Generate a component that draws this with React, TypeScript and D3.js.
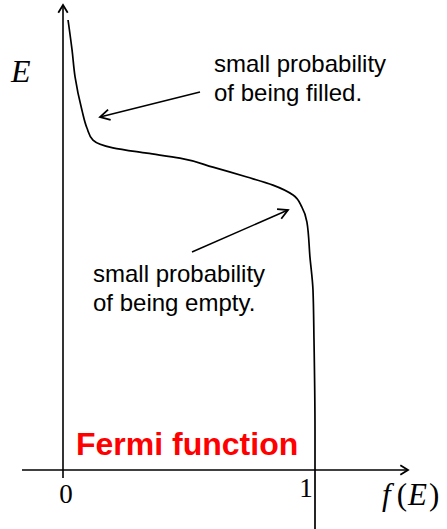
import React from "react";
import * as d3 from "d3";

// Fermi function curve samples (f in [0,1], E in arbitrary units)
const fValues = [0.02, 0.036, 0.048, 0.075, 0.095, 0.119, 0.198, 0.333, 0.464, 0.595, 0.73, 0.833, 0.913, 0.948, 0.968, 0.98, 0.992, 0.996, 1.0, 1.0];
const eValues = [10.0, 9.33, 8.73, 8.0, 7.6, 7.33, 7.16, 7.04, 6.93, 6.73, 6.51, 6.33, 6.11, 5.84, 5.51, 4.73, 4.0, 2.89, 0.89, -1.31];
const xTickLabels = ["0", "1"];
const xTickValues = [0, 1];
const annotationFilled = ["small probability", "of being filled."];
const annotationEmpty = ["small probability", "of being empty."];
const titleText = "Fermi function";

const W = 447;
const H = 529;

export default function App() {
  const x = d3.scaleLinear().domain([0, 1]).range([63, 315]);
  const y = d3.scaleLinear().domain([0, 10]).range([470, 20]);

  const pts = fValues.map((f, i) => [x(f), y(eValues[i])] as [number, number]);
  const line = d3.line<[number, number]>().x((d) => d[0]).y((d) => d[1]).curve(d3.curveMonotoneY);

  const x0 = x(0);
  const yAxis = y(0);

  const arrowHead = (tx: number, ty: number, angle: number, len = 9, spread = 0.55) => {
    const a1 = angle + Math.PI - spread;
    const a2 = angle + Math.PI + spread;
    return `M${tx + len * Math.cos(a1)},${ty + len * Math.sin(a1)} L${tx},${ty} L${tx + len * Math.cos(a2)},${ty + len * Math.sin(a2)}`;
  };

  const ann1 = { x1: 200, y1: 92, x2: 100, y2: 117 };
  const ann2 = { x1: 192, y1: 252, x2: 288, y2: 210 };

  const sans = "Arial, 'Liberation Sans', sans-serif";
  const serif = "'Times New Roman', 'Liberation Serif', serif";

  return (
    <div style={{ position: "fixed", left: 0, top: 0 }}>
      <svg width={W} height={H} style={{ display: "block", background: "#fff" }}>
        {/* vertical axis */}
        <line x1={x0} y1={5} x2={x0} y2={478} stroke="#000" strokeWidth={1.6} />
        <path d={arrowHead(x0, 5, -Math.PI / 2)} fill="none" stroke="#000" strokeWidth={1.8} />
        {/* horizontal axis */}
        <line x1={22} y1={yAxis} x2={408} y2={yAxis} stroke="#000" strokeWidth={1.6} />
        <path d={arrowHead(408, yAxis, 0)} fill="none" stroke="#000" strokeWidth={1.8} />

        {/* curve */}
        <path d={line(pts) || ""} fill="none" stroke="#000" strokeWidth={1.7} />

        {/* tick labels */}
        {xTickValues.map((v, i) => (
          <text key={i} x={x(v) + (i === 0 ? 3 : -9)} y={i === 0 ? 503 : 497} textAnchor="middle" fontFamily={serif} fontSize={27}>
            {xTickLabels[i]}
          </text>
        ))}

        {/* axis labels */}
        <text x={11} y={82} fontFamily={serif} fontStyle="italic" fontSize={32}>E</text>
        <text x={382} y={505} fontFamily={serif} fontSize={31}>
          <tspan fontStyle="italic">f</tspan>
          <tspan dx={6}>(</tspan>
          <tspan fontStyle="italic" dx={1}>E</tspan>
          <tspan dx={2}>)</tspan>
        </text>

        {/* annotations */}
        <line x1={ann1.x1} y1={ann1.y1} x2={ann1.x2} y2={ann1.y2} stroke="#000" strokeWidth={1.5} />
        <path d={arrowHead(ann1.x2, ann1.y2, Math.atan2(ann1.y2 - ann1.y1, ann1.x2 - ann1.x1), 11, 0.5)} fill="none" stroke="#000" strokeWidth={1.8} />
        <line x1={ann2.x1} y1={ann2.y1} x2={ann2.x2} y2={ann2.y2} stroke="#000" strokeWidth={1.5} />
        <path d={arrowHead(ann2.x2, ann2.y2, Math.atan2(ann2.y2 - ann2.y1, ann2.x2 - ann2.x1), 11, 0.5)} fill="none" stroke="#000" strokeWidth={1.8} />

        {annotationFilled.map((t, i) => (
          <text key={"f" + i} x={214} y={72 + i * 29} fontFamily={sans} fontSize={24}>{t}</text>
        ))}
        {annotationEmpty.map((t, i) => (
          <text key={"e" + i} x={93} y={282 + i * 29} fontFamily={sans} fontSize={24}>{t}</text>
        ))}

        <text x={76} y={455} fontFamily={sans} fontWeight="bold" fontSize={32} fill="#ff0000">{titleText}</text>
      </svg>
    </div>
  );
}
